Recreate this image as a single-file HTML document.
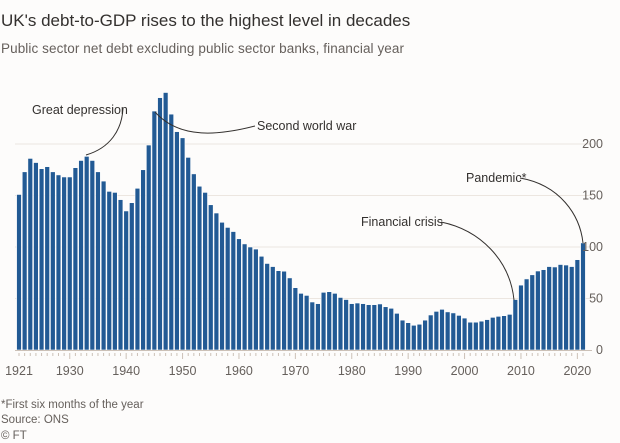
<!DOCTYPE html>
<html><head><meta charset="utf-8"><style>
body{margin:0;background:#fff;}
svg{display:block;font-family:"Liberation Sans",sans-serif;}
</style></head><body>
<svg id="c" width="620" height="443" viewBox="0 0 620 443" xmlns="http://www.w3.org/2000/svg">
<rect width="620" height="443" fill="#fdfcfb"/>
<text x="1" y="26" font-size="17" fill="#33302e">UK's debt-to-GDP rises to the highest level in decades</text>
<text x="1" y="53" font-size="13.5" fill="#66605c" textLength="403">Public sector net debt excluding public sector banks, financial year</text>
<g id="grid" stroke="#ece6e0" stroke-width="1"></g>
<g id="bars" fill="#225a94" stroke="#ffffff" stroke-width="0.6"></g>
<g id="ticks" stroke="#ccc1b7" stroke-width="1"></g>
<g id="xl" font-size="12.5" fill="#66605c" text-anchor="middle"></g>
<g id="yl" font-size="12.5" fill="#66605c" text-anchor="end"></g>
<g fill="none" stroke="#33302e" stroke-width="1">
<path d="M123,108 C122,130 110,148 86,155"/>
<path d="M155,112 C180,140 220,135 255,126"/>
<path d="M441,222 C480,230 510,260 514,300"/>
<path d="M520,178 C560,185 580,215 583,243"/>
</g>
<g font-size="12.5" fill="#33302e">
<text x="32" y="114">Great depression</text>
<text x="257" y="130">Second world war</text>
<text x="361" y="226">Financial crisis</text>
<text x="466" y="182">Pandemic*</text>
</g>
<g font-size="11.5" fill="#66605c">
<text x="1" y="408">*First six months of the year</text>
<text x="1" y="423">Source: ONS</text>
<text x="1" y="439">© FT</text>
</g>
</svg>
<script>
var v=[151,173,186,182,176,178,173,170,168,168,177,184,188,184,173,164,154,153,146,135,143,157,175,199,232,245,250,229,212,206,187,171,159,153,141,133,124,119,115,108,103,100,98,91,84,81,77,76.5,70,60.5,55,53,46.6,45,56,56.6,55,51,49,45,45.6,45,44,44,44.7,42,40.5,35.6,29,26.5,24,25,29,34,37.5,39.5,37,36,33.6,31,27,27,28,29.5,31.7,32.7,33.3,34.6,49,63,69,73,76.7,78,81,80.6,83,82.5,81,87.7,104];
var NS="http://www.w3.org/2000/svg",B=350,K=1.03,P=5.64,X0=19;
function el(p,t,a,txt){var e=document.createElementNS(NS,t);for(var k in a)e.setAttribute(k,a[k]);if(txt!=null)e.textContent=txt;document.getElementById(p).appendChild(e);}
[50,100,150,200].forEach(function(g){el("grid","line",{x1:15,x2:592,y1:B-g*K,y2:B-g*K});});
[0,50,100,150,200].forEach(function(g){el("yl","text",{x:603,y:B-g*K+4},g);});
v.forEach(function(d,i){var cx=X0+i*P;el("bars","rect",{x:cx-2.4,y:B-d*K,width:4.8,height:d*K});
var yr=1921+i;var maj=(yr%10==0);el("ticks","line",{x1:cx,x2:cx,y1:B+3,y2:B+(maj?9:6)});});
el("ticks","line",{x1:15,x2:592,y1:B+0.5,y2:B+0.5});
var lab=[1921,1930,1940,1950,1960,1970,1980,1990,2000,2010,2020];
lab.forEach(function(y){el("xl","text",{x:X0+(y-1921)*P,y:375},y);});
</script>
</body></html>
